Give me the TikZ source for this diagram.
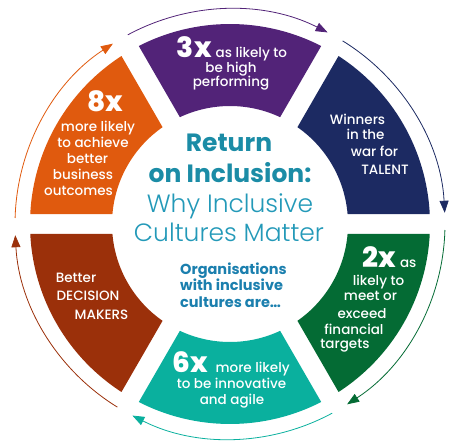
\documentclass[tikz,border=0pt]{standalone}
\usepackage{fontspec}
\setmainfont{Poppins}
\IfFontExistsTF{Poppins Light}{\newfontfamily\lightf{Poppins Light}}{\newfontfamily\lightf{Poppins}}
\IfFontExistsTF{Poppins Medium}{\newfontfamily\medf{Poppins Medium}}{\newfontfamily\medf{Poppins}}
\usetikzlibrary{arrows.meta}
\definecolor{cOrange}{HTML}{E05A0E}
\definecolor{cPurple}{HTML}{522378}
\definecolor{cNavy}{HTML}{1C2A62}
\definecolor{cGreen}{HTML}{046B34}
\definecolor{cTeal}{HTML}{0AB09E}
\definecolor{cRed}{HTML}{9B300A}
\definecolor{cTitle}{HTML}{1B8CA6}
\definecolor{cSub}{HTML}{2399B8}
\definecolor{cOrg}{HTML}{1B7FAE}
\newcommand\bignum[1]{{\fontsize{28}{30}\selectfont\bfseries #1}}
\tikzset{
  segtext/.style={text=white, font=\medf\fontsize{13.5}{16}\selectfont, inner sep=0pt, anchor=base},
  ringarrow/.style={line width=0.8pt, -{Triangle[length=12pt,width=9pt]}},
  titletext/.style={text=cTitle, font=\bfseries\fontsize{25}{30}\selectfont, inner sep=0pt, anchor=base},
  subtext/.style={text=cSub, font=\lightf\fontsize{25}{30}\selectfont, inner sep=0pt, anchor=base},
  orgtext/.style={text=cOrg, font=\bfseries\fontsize{14.5}{17}\selectfont, inner sep=0pt, anchor=base west},
}
\newcommand\ringseg[3]{%
  \fill[#3] (#1+2.866:200) arc[start angle=#1+2.866, end angle=#2-2.866, radius=200]
    -- (#2-4.862:118) arc[start angle=#2-4.862, end angle=#1+4.862, radius=118] -- cycle;}
\newcommand\ringarr[2]{%
  \draw[ringarrow, #2] (#1-1.6:215) arc[start angle=#1-1.6, end angle=#1-57, radius=215];}
\begin{document}
\begin{tikzpicture}[x=1pt,y=1pt]
\useasboundingbox (0,0) rectangle (458,445);
\begin{scope}[shift={(230,221)}]
  \ringseg{60}{120}{cPurple}
  \ringseg{0}{60}{cNavy}
  \ringseg{-60}{0}{cGreen}
  \ringseg{-120}{-60}{cTeal}
  \ringseg{180}{240}{cRed}
  \ringseg{120}{180}{cOrange}
  \ringarr{180}{cOrange}
  \ringarr{120}{cPurple}
  \ringarr{60}{cNavy}
  \ringarr{0}{cGreen}
  \ringarr{-60}{cTeal}
  \ringarr{-120}{cRed}
\end{scope}
% purple
\node[segtext] (p1) at (232,387) {\bignum{3x}\hspace{4pt}as likely to};
\node[segtext] (p2) at (231,372) {be high};
\node[segtext] (p3) at (231,358) {performing};
% navy
\node[segtext] (n1) at (357.5,320) {Winners};
\node[segtext] (n2) at (365.5,305) {in the};
\node[segtext] (n3) at (374.5,288) {war for};
\node[segtext] (n4) at (385,270) {TALENT};
% green
\node[segtext] (g1) at (389.5,177) {\bignum{2x}\hspace{4pt}as};
\node[segtext] (g2) at (378.5,160) {likely to};
\node[segtext] (g3) at (370.5,144) {meet or};
\node[segtext] (g4) at (362,127) {exceed};
\node[segtext] (g5) at (354,111) {financial};
\node[segtext] (g6) at (345,97) {targets};
% teal
\node[segtext] (t1) at (231,73) {\bignum{6x}\hspace{8pt}more likely};
\node[segtext] (t2) at (231.5,57) {to be innovative};
\node[segtext] (t3) at (232,41) {and agile};
% red
\node[segtext] (r1) at (76,162) {Better};
\node[segtext] (r2) at (88,144) {DECISION};
\node[segtext] (r3) at (101.5,125) {MAKERS};
% orange
\node[segtext] (o1) at (105,333) {\bignum{8x}};
\node[segtext] (o2) at (98,313) {more likely};
\node[segtext] (o3) at (93,297) {to achieve};
\node[segtext] (o4) at (87.5,281) {better};
\node[segtext] (o5) at (83,265) {business};
\node[segtext] (o6) at (78.5,249) {outcomes};
% centre
\node[titletext] (c1) at (229,293) {Return};
\node[titletext] (c2) at (230,262) {on Inclusion:};
\node[subtext] (c3) at (230,232) {Why Inclusive};
\node[subtext] (c4) at (229,203) {Cultures Matter};
\node[orgtext] (q1) at (180,170) {Organisations};
\node[orgtext] (q2) at (180,154) {with inclusive};
\node[orgtext] (q3) at (180,138) {cultures are\dots};
\end{tikzpicture}
\end{document}
